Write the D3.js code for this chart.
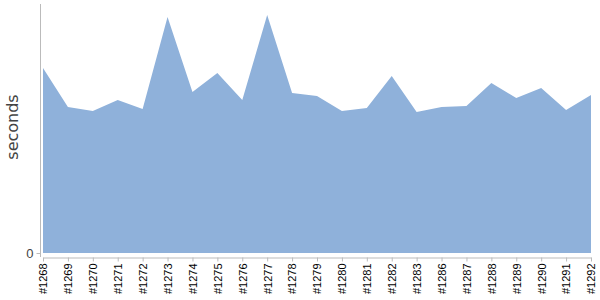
<!DOCTYPE html>
<html>
<head>
<meta charset="utf-8">
<script src="https://cdn.jsdelivr.net/npm/d3@7"></script>
<style>
  body { margin: 0; background: #fff; }
  .axis path, .axis line { stroke: #bbb; }
  .x.axis text { font: 11px "Liberation Sans", Arial, sans-serif; fill: #000; }
  .y.axis text { font: 13px "Liberation Sans", Arial, sans-serif; fill: #444; }
  .yLabel { font: 16px "DejaVu Sans", sans-serif; fill: #444; }
</style>
</head>
<body>
<div id="chart"></div>
<script>
// build numbers and durations (seconds)
var builds = ["#1268", "#1269", "#1270", "#1271", "#1272", "#1273", "#1274", "#1275",
  "#1276", "#1277", "#1278", "#1279", "#1280", "#1281", "#1282", "#1283", "#1286",
  "#1287", "#1288", "#1289", "#1290", "#1291", "#1292"];
var seconds = [185, 146, 142, 153, 144, 236, 161, 180, 153, 238, 160, 157, 142, 145,
  177, 141, 146, 147, 170, 155, 165, 143, 158];
var yTicks = [0];

var svgWidth = 600;
var svgHeight = 300;

var svg = d3.select("#chart")
  .append("svg")
  .attr("width", svgWidth)
  .attr("height", svgHeight);

var data = builds.map(function(b, i) { return { build: b, value: seconds[i] }; });

// scales
var x = d3.scalePoint()
  .domain(builds)
  .range([43, 591]);

var y = d3.scaleLinear()
  .domain([0, 249])
  .range([253, 4]);

// area
var area = d3.area()
  .x(d => x(d.build))
  .y0(y(0))
  .y1(d => y(d.value));

svg.append("path")
  .datum(data)
  .attr("fill", "#8fb1da")
  .attr("d", area);

// x axis, sits a few px under the area
svg.append("g")
  .attr("class", "x axis")
  .attr("transform", "translate(0,257.5)")
  .call(d3.axisBottom(x).tickSize(4).tickSizeOuter(0))
  .selectAll("text")
  .attr("transform", "rotate(-90)")
  .attr("x", -6)
  .attr("y", 0)
  .attr("dy", "0.35em")
  .style("text-anchor", "end");

// y axis
var yAxis = svg.append("g")
  .attr("class", "y axis")
  .attr("transform", "translate(40.5,0)")
  .call(d3.axisLeft(y).tickValues(yTicks).tickSize(4).tickSizeOuter(0));
yAxis.select(".domain").attr("d", "M0," + y(249) + "V" + (y(0) + 4));

// y label
svg.append("text")
  .attr("class", "yLabel")
  .attr("transform", "rotate(-90)")
  .attr("x", -127)
  .attr("y", 18)
  .style("text-anchor", "middle")
  .text("seconds");
</script>
</body>
</html>
